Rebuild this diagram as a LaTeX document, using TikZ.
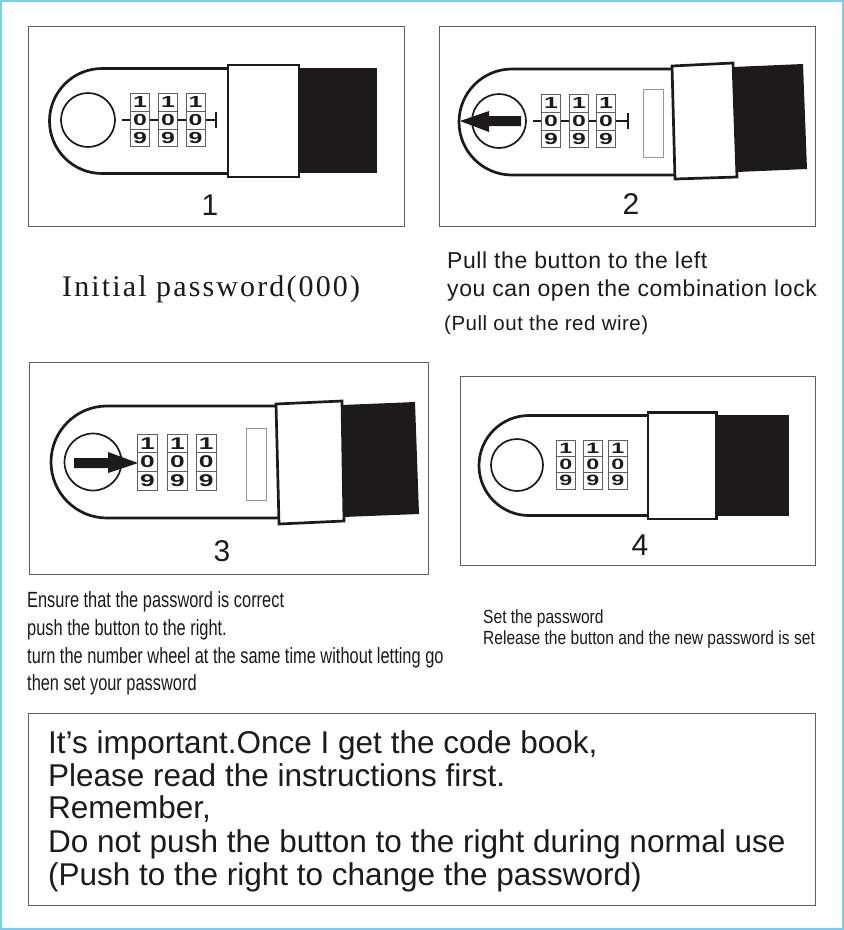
\documentclass[tikz,border=0pt]{standalone}
\usepackage{fontspec}
\setmainfont{Liberation Sans}
\newfontfamily\spacedfont[LetterSpace=2.5]{Liberation Sans}
\newfontfamily\narrowfont[FakeStretch=0.745]{Liberation Sans}
\newfontfamily\narrowsetfont[FakeStretch=0.82]{Liberation Sans}
\newfontfamily\serifspaced[LetterSpace=7.1]{Liberation Serif}
\newfontfamily\digitfont[FakeStretch=1.55]{Liberation Sans Bold}
\definecolor{cadre}{RGB}{95,95,95}
\definecolor{bordure}{RGB}{125,205,240}
\definecolor{noir}{RGB}{28,26,26}
\definecolor{gris}{RGB}{150,150,150}
\tikzset{
	frameline/.style={cadre,line width=0.9pt},
	bodyline/.style={noir,line width=2.7pt},
	circleline/.style={noir,line width=1.7pt},
	axisline/.style={noir,line width=2.4pt},
	wheelline/.style={cadre,line width=0.8pt,fill=white},
	slotline/.style={gris,line width=1pt,fill=white},
	numtext/.style={font=\fontsize{30}{30}\selectfont,text=noir,inner sep=0pt},
	digittext/.style={font=\digitfont\fontsize{#1}{#1}\selectfont,text=noir,inner sep=0pt},
	notetext/.style={anchor=base west,inner sep=0pt,text=noir},
}
%% roue a trois chiffres : x, y haut, largeur, hauteur de case, taille
\newcommand{\wheelcol}[6]{
	\draw[wheelline] (#2,#3) rectangle ++(#4,#5);
	\draw[wheelline] (#2,#3+#5) rectangle ++(#4,#5);
	\draw[wheelline] (#2,#3+2*#5) rectangle ++(#4,#5);
	\node[digittext=#6] (#1a) at (#2+0.5*#4,#3+0.5*#5) {1};
	\node[digittext=#6] (#1b) at (#2+0.5*#4,#3+1.5*#5) {0};
	\node[digittext=#6] (#1c) at (#2+0.5*#4,#3+2.5*#5) {9};
}
\begin{document}
\begin{tikzpicture}[x=1pt,y=-1pt]
	\useasboundingbox (0,0) rectangle (844,930);
	\fill[white] (0,0) rectangle (844,930);
	\draw[bordure,line width=2.4pt] (1.2,1.2) rectangle (842.8,928.8);
	
	%% vue 1
	\draw[frameline] (28,26) rectangle (404,226);
	\draw[bodyline] (230,68.5) -- (102,68.5) arc (270:90:52.5) -- (230,173.5);
	\fill[noir] (299,68) rectangle (377,173);
	\draw[bodyline,fill=white] (228,65) rectangle (299,177);
	\draw[circleline] (88,120) circle (27);
	\draw[axisline] (122,120) -- (215,120);
	\draw[axisline] (216,112) -- (216,128);
	\wheelcol{aw}{130.5}{93.5}{19}{17.7}{16}
	\wheelcol{ax}{158.5}{93.5}{19}{17.7}{16}
	\wheelcol{ay}{186}{93.5}{19}{17.7}{16}
	\node[numtext] (num1) at (210,205.5) {1};
	
	%% vue 2
	\draw[frameline] (439,26) rectangle (815,226);
	\draw[bodyline] (675,69) -- (512,69) arc (270:90:53) -- (676,175);
	\fill[noir] (733,67) -- (803,64) -- (807,169) -- (737,172) -- cycle;
	\draw[bodyline,fill=white] (672,66) -- (733,63) -- (737,177) -- (675,179) -- cycle;
	\draw[circleline] (499,121) circle (27);
	\draw[axisline] (533,121) -- (627,121);
	\draw[axisline] (628,113) -- (628,129);
	\wheelcol{bw}{541.5}{94.5}{19}{17.7}{16}
	\wheelcol{bx}{569.5}{94.5}{19}{17.7}{16}
	\wheelcol{by}{596.5}{94.5}{19}{17.7}{16}
	\draw[slotline] (643.5,89) rectangle (663,157);
	\fill[noir] (521,116) -- (489,116) -- (489,111) -- (460,121) -- (489,132) -- (489,126) -- (521,126) -- cycle;
	\node[numtext] (num2) at (631,204) {2};
	
	%% vue 3
	\draw[frameline] (29,362) rectangle (428,574);
	\draw[bodyline] (279,406) -- (107,406) arc (270:90:56) -- (280,518);
	\fill[noir] (342,405) -- (415,402) -- (419,514) -- (343,517) -- cycle;
	\draw[bodyline,fill=white] (276,404) -- (342,401) -- (344,521) -- (279,524) -- cycle;
	\draw[circleline] (93,462) circle (28.5);
	\wheelcol{cw}{137.5}{434}{20}{18.7}{17}
	\wheelcol{cx}{167.5}{434}{20}{18.7}{17}
	\wheelcol{cy}{196}{434}{20.5}{18.7}{17}
	\draw[slotline] (246,428.5) rectangle (266,500);
	\fill[noir] (74,458) -- (108,458) -- (108,452) -- (138,463) -- (108,473) -- (108,468) -- (74,468) -- cycle;
	\node[numtext] (num3) at (222,551) {3};
	
	%% vue 4
	\draw[frameline] (460,376) rectangle (815,565);
	\draw[bodyline] (650,415.5) -- (529,415.5) arc (270:90:50) -- (650,515.5);
	\fill[noir] (716,415) rectangle (789,515.5);
	\draw[bodyline,fill=white] (648,412.5) rectangle (716.5,519);
	\draw[circleline] (517,465) circle (26);
	\wheelcol{dw}{556.5}{440}{18.5}{16.3}{15}
	\wheelcol{dx}{583.5}{440}{18.5}{16.3}{15}
	\wheelcol{dy}{608.5}{440}{18.5}{16.3}{15}
	\node[numtext] (num4) at (640,545) {4};
	
	%% textes
	\node[notetext,font=\serifspaced\fontsize{30}{30}\selectfont] (initial) at (62,296) {Initial password(000)};
	\node[notetext,font=\spacedfont\fontsize{23}{23}\selectfont] (pull1) at (447,268) {Pull the button to the left};
	\node[notetext,font=\spacedfont\fontsize{23}{23}\selectfont] (pull2) at (447,296) {you can open the combination lock};
	\node[notetext,font=\spacedfont\fontsize{20.5}{20.5}\selectfont] (pull3) at (444,330) {(Pull out the red wire)};
	\foreach \name/\y/\txt in {en1/607/Ensure that the password is correct,en2/635/push the button to the right.,en3/663/turn the number wheel at the same time without letting go,en4/690/then set your password}
		\node[notetext,font=\narrowfont\fontsize{22}{22}\selectfont] (\name) at (27,\y) {\txt};
	\node[notetext,font=\narrowsetfont\fontsize{19}{19}\selectfont] (set1) at (483,623) {Set the password};
	\node[notetext,font=\narrowsetfont\fontsize{19}{19}\selectfont] (set2) at (483,644) {Release the button and the new password is set};
	
	%% encadre du bas
	\draw[frameline] (28,713) rectangle (815,905);
	\foreach \name/\y/\txt in {imp1/753/{It’s important.Once I get the code book,},imp2/786/Please read the instructions first.,imp3/818/{Remember,},imp4/852/Do not push the button to the right during normal use,imp5/885/(Push to the right to change the password)}
		\node[notetext,font=\fontsize{31.5}{31.5}\selectfont] (\name) at (48,\y) {\txt};
\end{tikzpicture}
\end{document}
